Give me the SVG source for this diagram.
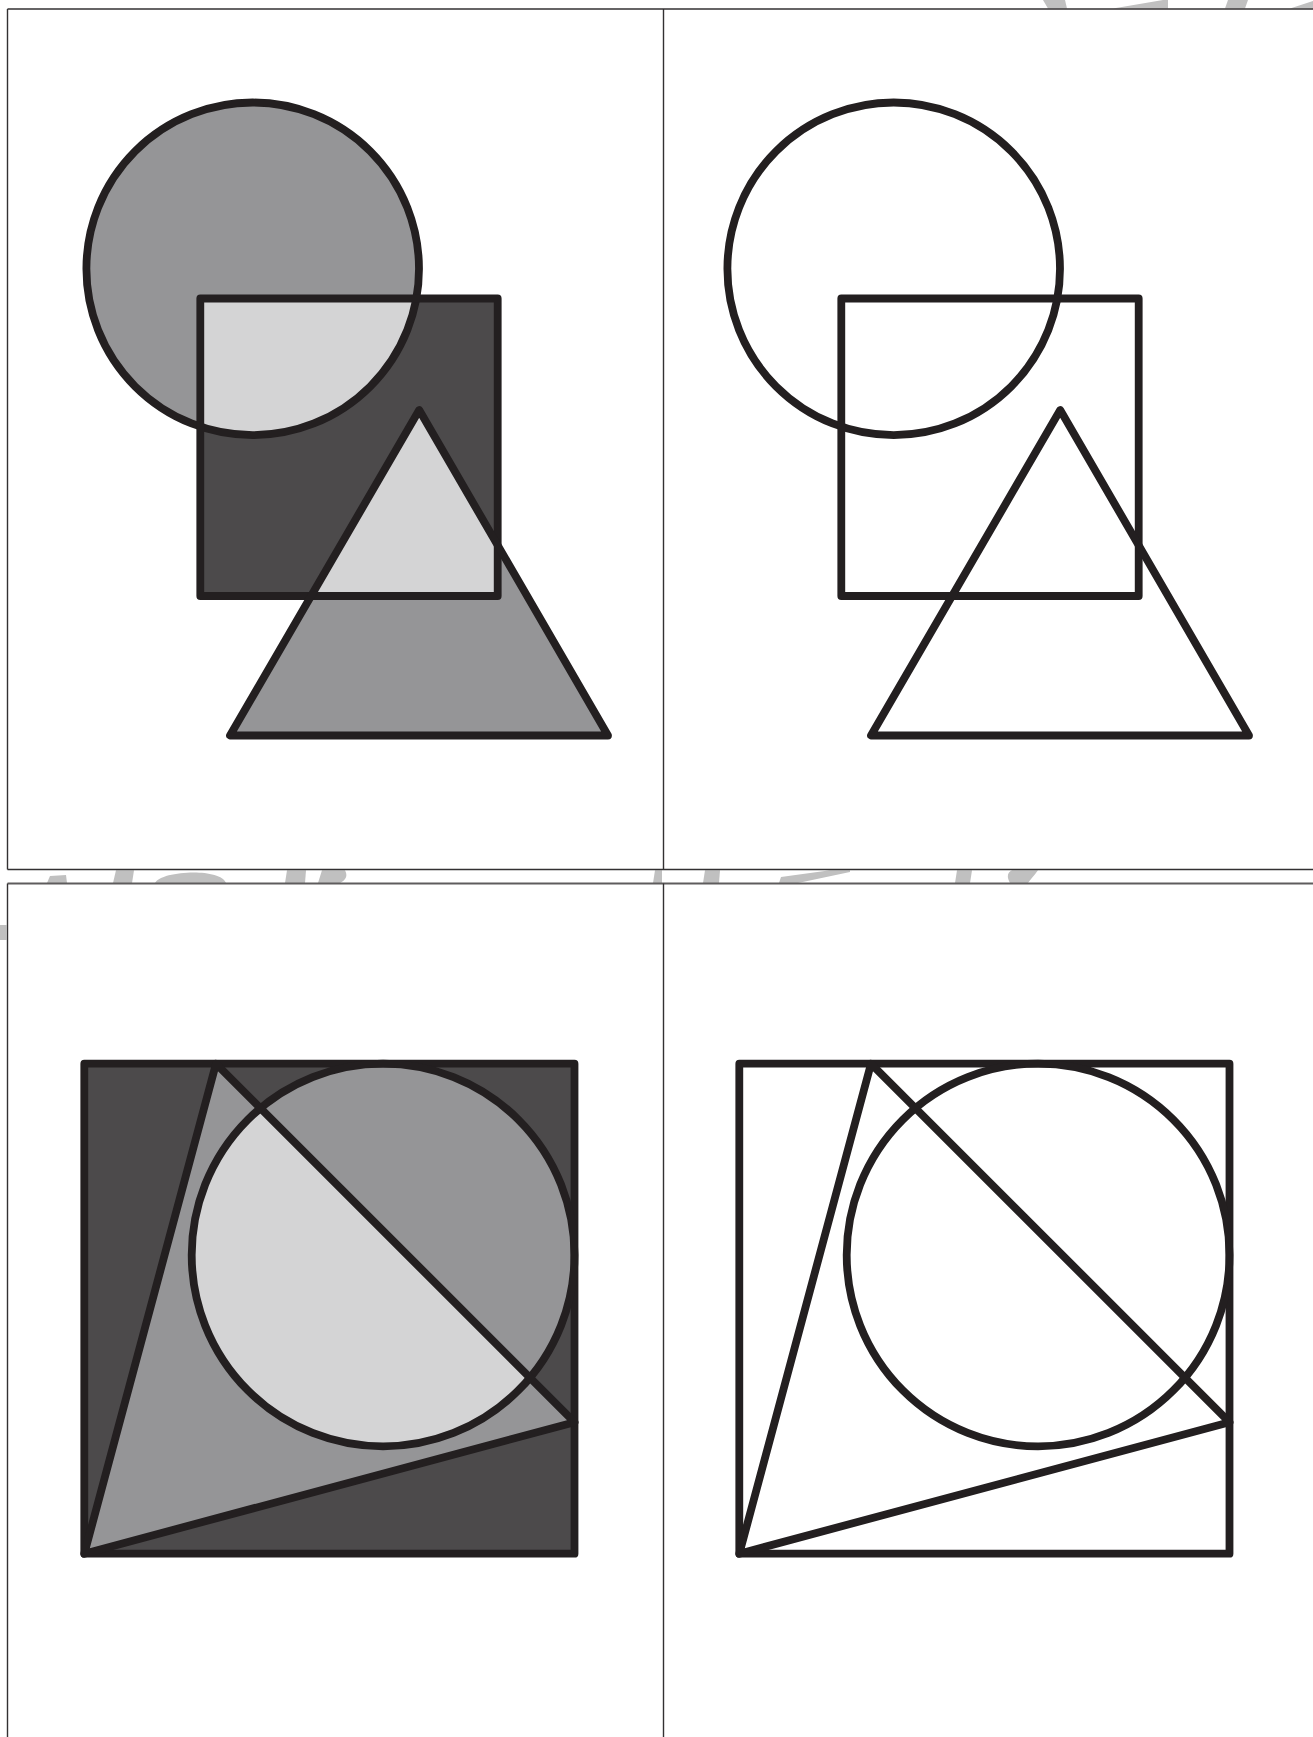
<svg xmlns="http://www.w3.org/2000/svg" width="1313" height="1737" viewBox="0 0 1313 1737">
  <style>
    .ol { fill: none; stroke: #231f20; stroke-width: 7.8; stroke-linejoin: round; stroke-linecap: round; }
    .dark { fill: #4c4a4b; }
    .mid { fill: #959597; }
    .light { fill: #d4d4d5; }
    .wm { fill: #c0c0c0; stroke: none; }
    .frame { fill: none; stroke: #333132; stroke-width: 1.4; }
  </style>
  <defs>
    <rect id="sq1" x="200.3" y="298.5" width="297.4" height="297.5"/>
    <circle id="c1" cx="252.7" cy="268.8" r="166.3"/>
    <polygon id="t1" points="419.2,410 230,735.5 608,735.5"/>
    <rect id="sq2" x="84.3" y="1063.7" width="490.2" height="490"/>
    <circle id="c2" cx="383.1" cy="1255" r="191.4"/>
    <polygon id="t2" points="84.3,1553.7 216,1063.7 574.5,1422.2"/>
    <clipPath id="clipSq1"><use href="#sq1"/></clipPath>
    <clipPath id="clipT2"><use href="#t2"/></clipPath>
  </defs>
  <rect x="0" y="0" width="1313" height="1737" fill="#ffffff"/>

  <g id="watermark-fragments">
    <polygon class="wm" points="1043,0 1065,0 1067,8.5 1048,8.5"/>
    <polygon class="wm" points="1113,8.5 1168,8.5 1168,0 1163,0"/>
    <polygon class="wm" points="1228,0 1248,0 1245,8.5 1225,8.5"/>
    <polygon class="wm" points="1290,8.5 1313,8.5 1313,1"/>
    <polygon class="wm" points="47,883 50,876 66,875 67,883"/>
    <polygon class="wm" points="116,870.3 134,870.3 132,883 113,883"/>
    <path class="wm" d="M155,883 C160,871 220,867 226,883 Z"/>
    <polygon class="wm" points="287,870.3 306,870.3 305,883 285,883"/>
    <path class="wm" d="M318,883 L322,870.3 L345,870.3 C348,876 346,880 340,883 Z"/>
    <polygon class="wm" points="655,870.3 662,870.3 662,883 653,883"/>
    <polygon class="wm" points="705,870.3 720,870.3 719,883 703,883"/>
    <polygon class="wm" points="779,883 798,883 850,872 850,870.3 830,870.3 781,877"/>
    <polygon class="wm" points="957,870.3 972,870.3 970,883 955,883"/>
    <path class="wm" d="M1010,883 C1006,876 1008,872 1012,870.3 L1038,870.3 C1034,876 1030,880 1028,883 Z"/>
    <rect class="wm" x="0" y="925" width="6.5" height="15"/>
  </g>

  <g id="panel-frames">
    <line class="frame" x1="7.5" y1="9" x2="1313" y2="9"/>
    <line class="frame" x1="7.5" y1="9" x2="7.5" y2="869.5"/>
    <line class="frame" x1="7.5" y1="869.5" x2="1313" y2="869.5"/>
    <line class="frame" x1="663.5" y1="9" x2="663.5" y2="869.5" stroke="#5a5a5a"/>
    <line x1="7.5" y1="883.5" x2="1313" y2="883.5" stroke="#5e5c5d" stroke-width="2.2"/>
    <line class="frame" x1="7.5" y1="883.5" x2="7.5" y2="1737"/>
    <line class="frame" x1="663.5" y1="883.5" x2="663.5" y2="1737" stroke="#5a5a5a"/>
  </g>

  <g id="panel-top-left">
    <g id="tl-fills">
      <use href="#c1" class="mid"/>
      <use href="#sq1" class="dark"/>
      <use href="#c1" class="light" clip-path="url(#clipSq1)"/>
      <use href="#t1" class="mid"/>
      <use href="#t1" class="light" clip-path="url(#clipSq1)"/>
    </g>
    <g id="tl-circle"><use href="#c1" class="ol"/></g>
    <g id="tl-square"><use href="#sq1" class="ol"/></g>
    <g id="tl-triangle"><use href="#t1" class="ol"/></g>
  </g>

  <g id="panel-top-right" transform="translate(641,0)">
    <g id="tr-circle"><use href="#c1" class="ol"/></g>
    <g id="tr-square"><use href="#sq1" class="ol"/></g>
    <g id="tr-triangle"><use href="#t1" class="ol"/></g>
  </g>

  <g id="panel-bottom-left">
    <g id="bl-fills">
      <use href="#sq2" class="dark"/>
      <use href="#t2" class="mid"/>
      <use href="#c2" class="mid"/>
      <use href="#c2" class="light" clip-path="url(#clipT2)"/>
    </g>
    <g id="bl-square"><use href="#sq2" class="ol"/></g>
    <g id="bl-circle"><use href="#c2" class="ol"/></g>
    <g id="bl-triangle"><use href="#t2" class="ol"/></g>
  </g>

  <g id="panel-bottom-right" transform="translate(655,0)">
    <g id="br-square"><use href="#sq2" class="ol"/></g>
    <g id="br-circle"><use href="#c2" class="ol"/></g>
    <g id="br-triangle"><use href="#t2" class="ol"/></g>
  </g>
</svg>
